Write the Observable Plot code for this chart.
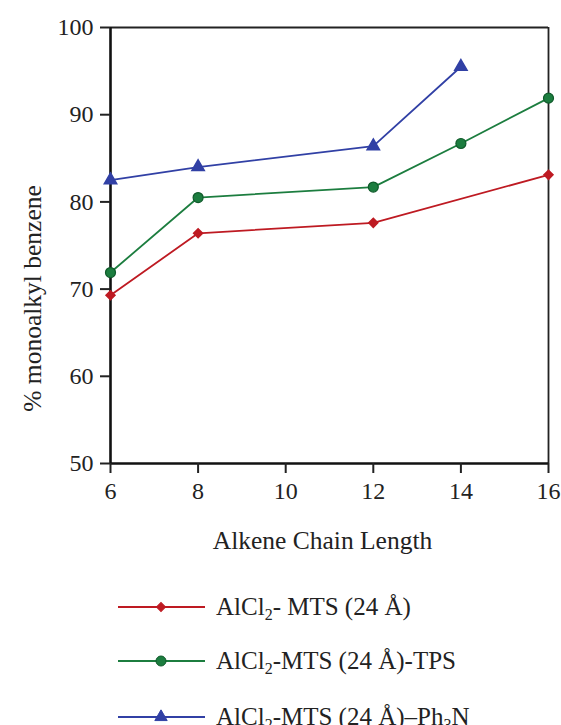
<!DOCTYPE html>
<html>
<head>
<meta charset="utf-8">
<script src="https://cdn.jsdelivr.net/npm/d3@7"></script>
<script src="https://cdn.jsdelivr.net/npm/@observablehq/plot@0.6"></script>
<style>
  body { margin: 0; background: #fff; font-family: "Liberation Serif", "Times New Roman", "DejaVu Serif", serif; }
  #wrap { position: relative; width: 561px; height: 725px; overflow: hidden; }
  .leg { position: absolute; left: 0; width: 561px; height: 34px; }
  .leg svg { position: absolute; left: 115px; top: 0; }
  .leg span { position: absolute; left: 216px; top: 0px; font-size: 25px; line-height: 30px; color: #222; white-space: nowrap; }
  .leg sub { font-size: 16px; vertical-align: -5px; line-height: 0; }
</style>
</head>
<body>
<div id="wrap"></div>
<script>
const chainLength = [6, 8, 12, 14, 16];
const seriesNames = ["AlCl2- MTS (24 Å)", "AlCl2-MTS (24 Å)-TPS", "AlCl2-MTS (24 Å)–Ph3N"];
const redX = [6, 8, 12, 16];
const redY = [69.3, 76.4, 77.6, 83.1];
const greenX = [6, 8, 12, 14, 16];
const greenY = [71.9, 80.5, 81.7, 86.7, 91.9];
const blueX = [6, 8, 12, 14];
const blueY = [82.5, 84.0, 86.4, 95.5];
const xTicks = [6, 8, 10, 12, 14, 16];
const yTicks = [50, 60, 70, 80, 90, 100];
const colors = ["#be1a22", "#1c7d3f", "#3140a5"];

const rows = (xs, ys, s) => xs.map((x, i) => ({x, y: ys[i], s}));
const red = rows(redX, redY, seriesNames[0]);
const green = rows(greenX, greenY, seriesNames[1]);
const blue = rows(blueX, blueY, seriesNames[2]);
const data = [...red, ...green, ...blue];

const font = '"Liberation Serif", "Times New Roman", "DejaVu Serif", serif';
const chart = Plot.plot({
  width: 561,
  height: 570,
  marginLeft: 110,
  marginRight: 13,
  marginTop: 27,
  marginBottom: 107,
  style: {fontFamily: font, fontSize: "24px", color: "#222", background: "white"},
  x: {domain: [6, 16], ticks: xTicks},
  y: {domain: [50, 100], ticks: yTicks},
  color: {domain: seriesNames, range: colors},
  marks: [
    Plot.ruleY([100], {stroke: "#222", strokeWidth: 1.8}),
    Plot.ruleX([16], {stroke: "#222", strokeWidth: 1.8}),
    Plot.ruleX([6], {stroke: "#111", strokeWidth: 2.6}),
    Plot.ruleY([50], {stroke: "#111", strokeWidth: 2.6}),
    Plot.axisY({ticks: yTicks, tickSize: 10, tickPadding: 7, strokeWidth: 2, label: null, fontSize: 24}),
    Plot.axisX({ticks: xTicks, tickSize: 10, tickPadding: 8, strokeWidth: 2, label: null, fontSize: 24}),
    Plot.text(["% monoalkyl benzene"], {frameAnchor: "left", textAnchor: "middle", lineAnchor: "middle", dx: -78, dy: 53, rotate: -90, fontSize: 25.5, fill: "#222"}),
    Plot.text(["Alkene Chain Length"], {frameAnchor: "bottom", textAnchor: "middle", dy: 85, dx: -7, fontSize: 25.5, fill: "#222"}),
    Plot.line(data, {x: "x", y: "y", z: "s", stroke: "s", strokeWidth: 1.8}),
    Plot.dot(red, {x: "x", y: "y", symbol: "square", fill: "s", stroke: "s", r: 3.6, rotate: 45}),
    Plot.dot(green, {x: "x", y: "y", symbol: "circle", fill: "s", stroke: "#0f5a2a", strokeWidth: 1.2, r: 5}),
    Plot.dot(blue, {x: "x", y: "y", symbol: "triangle", fill: "s", stroke: "s", r: 4.6})
  ]
});
const wrap = document.getElementById("wrap");
wrap.appendChild(chart);

const labelsHTML = [
  'AlCl<sub>2</sub>- MTS (24 Å)',
  'AlCl<sub>2</sub>-MTS (24 Å)-TPS',
  'AlCl<sub>2</sub>-MTS (24 Å)–Ph<sub>3</sub>N'
];
const rowTops = [592, 646, 702];
const legSyms = [d3.symbolSquare, d3.symbolCircle, d3.symbolTriangle];
const legR = [3.6, 5, 4.6];
const legRot = [45, 0, 0];
seriesNames.forEach((name, i) => {
  const row = document.createElement("div");
  row.className = "leg";
  row.style.top = rowTops[i] + "px";
  const svg = d3.create("svg").attr("width", 95).attr("height", 30);
  svg.append("line").attr("x1", 3).attr("x2", 90).attr("y1", 15).attr("y2", 15)
    .attr("stroke", colors[i]).attr("stroke-width", 1.8);
  svg.append("path").attr("transform", `translate(46,15) rotate(${legRot[i]})`)
    .attr("d", d3.symbol(legSyms[i], Math.PI * legR[i] * legR[i])())
    .attr("fill", colors[i]).attr("stroke", i === 1 ? "#0f5a2a" : colors[i]);
  row.appendChild(svg.node());
  const span = document.createElement("span");
  span.innerHTML = labelsHTML[i];
  row.appendChild(span);
  wrap.appendChild(row);
});
</script>
</body>
</html>
